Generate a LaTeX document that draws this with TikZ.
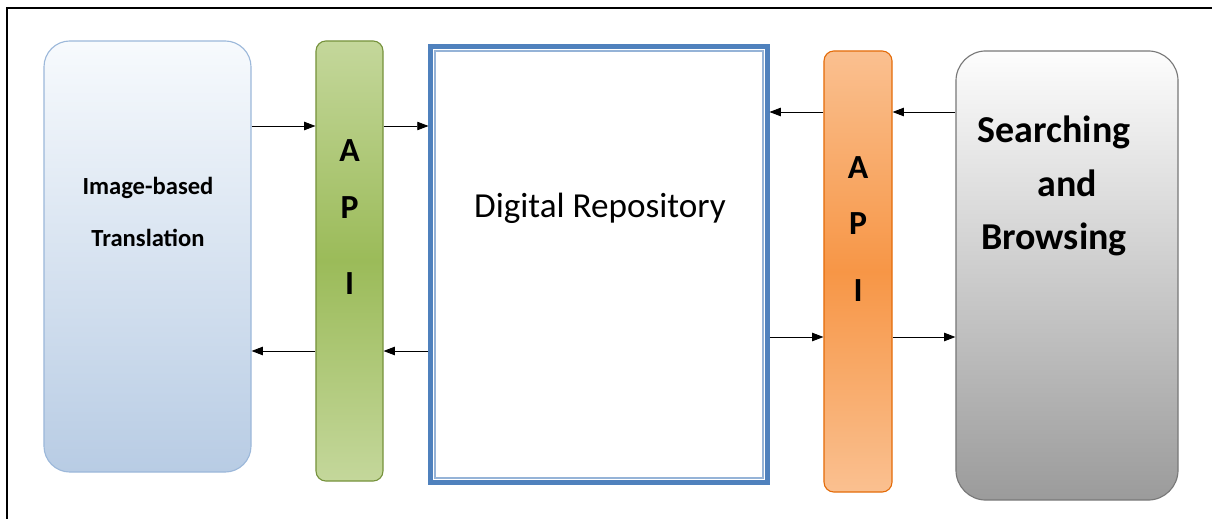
\documentclass[tikz,border=0pt]{standalone}
\usepackage{fontspec}
\setmainfont{Carlito}
\usepackage{tikz}
\usetikzlibrary{arrows.meta, positioning}
\definecolor{trans-top}{RGB}{247,250,253}
\definecolor{trans-bot}{RGB}{184,204,228}
\definecolor{trans-line}{RGB}{156,184,218}
\definecolor{green-light}{RGB}{196,215,155}
\definecolor{green-mid}{RGB}{155,187,89}
\definecolor{green-line}{RGB}{118,146,60}
\definecolor{orange-light}{RGB}{250,192,144}
\definecolor{orange-mid}{RGB}{247,150,70}
\definecolor{orange-line}{RGB}{228,108,10}
\definecolor{repo-blue}{RGB}{79,129,189}
\definecolor{repo-inner}{RGB}{149,179,215}
\definecolor{search-top}{RGB}{253,253,253}
\definecolor{search-bot}{RGB}{155,155,155}
\definecolor{search-line}{RGB}{120,120,120}
\tikzset{
    sidebox/.style = {rectangle, rounded corners=0.65cm, line width=0.8pt},
    apibar/.style = {rectangle, rounded corners=0.25cm, line width=0.8pt,
        minimum width=1.7cm, minimum height=11cm},
    repobox/.style = {rectangle, draw=repo-blue, line width=3.5pt,
        minimum width=8.4cm, minimum height=10.875cm},
    boxtext/.style = {align=center, inner sep=0pt},
    apitext/.style = {boxtext, font=\bfseries\fontsize{24}{40}\selectfont},
    flow/.style = {-{Triangle[length=8pt,width=6pt]}, line width=0.6pt}
}

\begin{document}
\begin{tikzpicture}[x=0.025cm, y=-0.025cm]
\useasboundingbox (0,0) rectangle (1212,519);
\draw[line width=1pt] (7,519) -- (7,8) -- (1212,8);

%left side
\node[sidebox, draw=trans-line, top color=trans-top, bottom color=trans-bot,
      minimum width=5.175cm, minimum height=10.775cm] (trans) at (147.5,256.5) {};
\node[boxtext, font=\bfseries\fontsize{17.5}{37}\selectfont] (transtxt) at (148,212)
     {Image-based\\Translation};

\node[apibar, draw=green-line, top color=green-light, bottom color=green-light,
      middle color=green-mid, minimum width=1.675cm] (apiL) at (349.5,261) {};
\node[apitext] (apiLtxt) at (349.5,217) {A\\P\\[14pt]I};

%repository
\node[repobox] (repo) at (599,264.5) {};
\draw[repo-inner, line width=1.2pt] ([shift={(0.16cm,-0.16cm)}]repo.north west)
     rectangle ([shift={(-0.16cm,0.16cm)}]repo.south east);
\node[boxtext, font=\fontsize{25}{30}\selectfont] (repotxt) at (600,208) {Digital Repository};

%right side
\node[apibar, draw=orange-line, top color=orange-light, bottom color=orange-light,
      middle color=orange-mid, minimum height=11.025cm] (apiR) at (858,271.5) {};
\node[apitext] (apiRtxt) at (858,229) {A\\P\\[8pt]I};

\node[sidebox, rounded corners=0.75cm, draw=search-line, top color=search-top,
      bottom color=search-bot, minimum width=5.55cm, minimum height=11.225cm] (search) at (1067,275.5) {};
\node[boxtext, font=\bfseries\fontsize{27}{38}\selectfont] (searchtxt) at (1054,186)
     {Searching\\\hspace*{0.7em}and\\Browsing};

%arrows
\coordinate (rowLa) at (0,126);
\coordinate (rowLb) at (0,351);
\coordinate (rowRa) at (0,112);
\coordinate (rowRb) at (0,337);

\draw[flow] (trans.east |- rowLa) -- (apiL.west |- rowLa);
\draw[flow] (apiL.east |- rowLa) -- (repo.west |- rowLa);
\draw[flow] (repo.west |- rowLb) -- (apiL.east |- rowLb);
\draw[flow] (apiL.west |- rowLb) -- (trans.east |- rowLb);

\draw[flow] (search.west |- rowRa) -- (apiR.east |- rowRa);
\draw[flow] (apiR.west |- rowRa) -- (repo.east |- rowRa);
\draw[flow] (repo.east |- rowRb) -- (apiR.west |- rowRb);
\draw[flow] (apiR.east |- rowRb) -- (search.west |- rowRb);
\end{tikzpicture}
\end{document}
